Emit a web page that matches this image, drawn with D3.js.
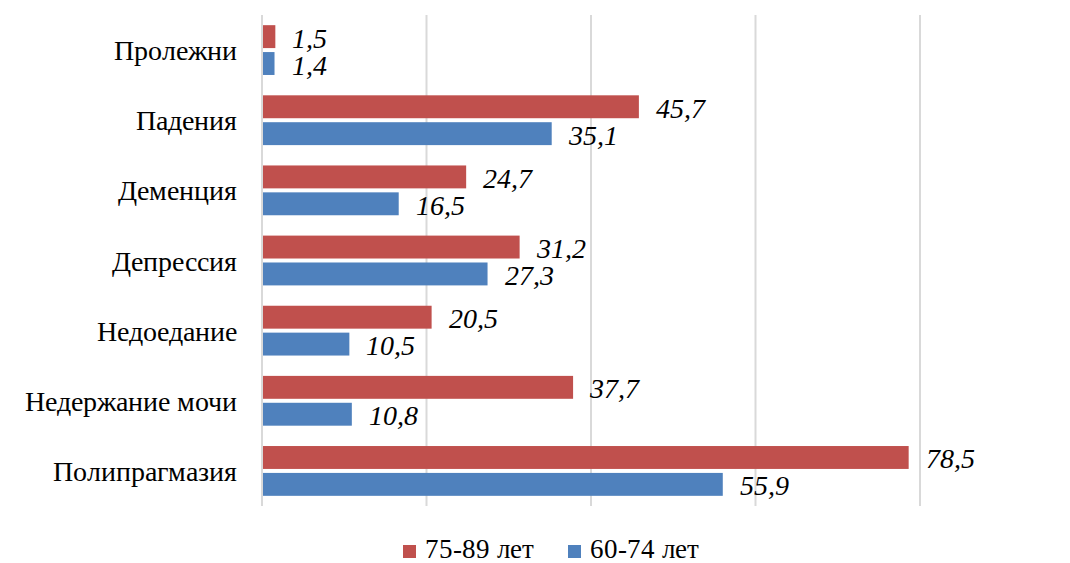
<!DOCTYPE html>
<html>
<head>
<meta charset="utf-8">
<script src="https://cdn.jsdelivr.net/npm/d3@7"></script>
<style>
  @font-face { font-family: "ChartSerif"; src: local("Liberation Serif"), local("LiberationSerif"), local("Times New Roman"), local("Tinos"); font-style: normal; }
  @font-face { font-family: "ChartSerif"; src: local("Liberation Serif Italic"), local("LiberationSerif-Italic"), local("Times New Roman Italic"); font-style: italic; }
</style>
</head>
<body style="margin:0">
<script>
// categories, top to bottom
var categories = ["Пролежни", "Падения", "Деменция", "Депрессия", "Недоедание", "Недержание мочи", "Полипрагмазия"];
var seriesNames = ["75-89 лет", "60-74 лет"];
var values7589 = [1.5, 45.7, 24.7, 31.2, 20.5, 37.7, 78.5];
var values6074 = [1.4, 35.1, 16.5, 27.3, 10.5, 10.8, 55.9];
var gridTicks = [0, 20, 40, 60, 80];

var colors = { "75-89 лет": "#c0504d", "60-74 лет": "#4f81bd" };
var fontFam = "ChartSerif, 'Liberation Serif', 'Times New Roman', Tinos, 'DejaVu Serif', serif";

var rows = categories.map(function (c, i) {
    return { name: c, "75-89 лет": values7589[i], "60-74 лет": values6074[i] };
});

var width = 1070, height = 563;
var margin = { top: 15, right: 150, bottom: 57, left: 262 };
var plotH = height - margin.top - margin.bottom;

var svg = d3.select("body").append("svg")
    .attr("width", width)
    .attr("height", height)
    .attr("font-family", fontFam);

var g = svg.append("g")
    .attr("transform", "translate(" + margin.left + "," + margin.top + ")");

var x = d3.scaleLinear().domain([0, 80]).range([0, 658]);

var y = d3.scaleBand()
    .domain(categories)
    .range([0, plotH])
    .paddingInner(0.29)
    .paddingOuter(0.145);

var y1 = d3.scaleBand()
    .domain(seriesNames)
    .range([0, y.bandwidth()])
    .paddingInner(0.148);

// vertical gridlines, drawn by hand from the scale (no axis group)
g.append("g")
    .selectAll("line")
    .data(gridTicks)
    .enter()
    .append("line")
    .attr("x1", function (d) { return x(d); })
    .attr("x2", function (d) { return x(d); })
    .attr("y1", 0)
    .attr("y2", plotH)
    .attr("stroke", "#d9d9d9")
    .attr("stroke-width", 2);

// category labels
g.append("g")
    .selectAll("text")
    .data(categories)
    .enter()
    .append("text")
    .attr("x", -25)
    .attr("y", function (d) { return y(d) + y.bandwidth() / 2 + 10; })
    .attr("text-anchor", "end")
    .attr("font-size", 28)
    .style("font-family", fontFam)
    .attr("fill", "#000")
    .text(function (d) { return d; });

var groups = g.selectAll(".cat")
    .data(rows)
    .enter()
    .append("g")
    .attr("class", "cat")
    .attr("transform", function (d) { return "translate(0," + y(d.name) + ")"; });

var bars = groups.selectAll("g")
    .data(function (d) {
        return seriesNames.map(function (s) { return { key: s, value: d[s] }; });
    })
    .enter()
    .append("g");

bars.append("rect")
    .attr("x", x(0) + 1)
    .attr("y", function (d) { return y1(d.key); })
    .attr("height", y1.bandwidth())
    .attr("width", function (d) { return x(d.value); })
    .attr("fill", function (d) { return colors[d.key]; });

bars.append("text")
    .attr("x", function (d) { return x(d.value) + 18; })
    .attr("y", function (d) { return y1(d.key) + y1.bandwidth() / 2 + 11; })
    .attr("font-size", 28)
    .attr("font-style", "italic")
    .style("font-family", fontFam)
    .attr("fill", "#000")
    .text(function (d) { return String(d.value).replace(".", ","); });

// legend
var legendX = [403, 568];
var legend = svg.append("g")
    .selectAll("g")
    .data(seriesNames)
    .enter()
    .append("g")
    .attr("transform", function (d, i) { return "translate(" + legendX[i] + ",545)"; });

legend.append("rect")
    .attr("width", 13)
    .attr("height", 13)
    .attr("fill", function (d) { return colors[d]; });

legend.append("text")
    .attr("x", 22)
    .attr("y", 13)
    .attr("font-size", 27)
    .style("font-family", fontFam)
    .attr("fill", "#000")
    .text(function (d) { return d; });
</script>
</body>
</html>
